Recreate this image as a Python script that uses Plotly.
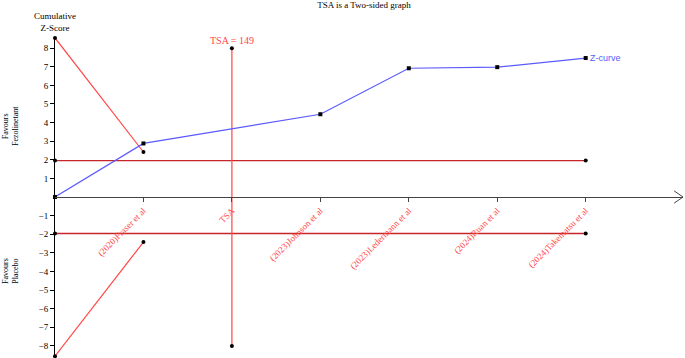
import plotly.graph_objects as go

# ---- data ----
study_labels = ["(2020)Fraser et al", "TSA", "(2023)Johnson et al", "(2023)Ledermann et al",
                "(2024)Ruan et al", "(2024)Takematsu et al"]
study_pos = [1, 2, 3, 4, 5, 6]
z_pos = [0, 1, 3, 4, 5, 6]
z_values = [0, 2.88, 4.45, 6.92, 6.98, 7.47]
boundary_pos = [0, 1]
upper_boundary = [8.55, 2.42]
lower_boundary = [-8.55, -2.42]
conv_pos = [0, 6]
conv_upper = [1.96, 1.96]
conv_lower = [-1.96, -1.96]
tsa_pos = [2, 2]
tsa_range = [-8, 8]
tsa_text = "TSA = 149"
y_ticks = [-8, -7, -6, -5, -4, -3, -2, -1, 1, 2, 3, 4, 5, 6, 7, 8]

SERIF = "Liberation Serif"
RED = "#ff4545"
DARKRED = "#c8252b"
BLUE = "#5a5aff"

Y_RANGE = [-8.65, 8.6]
X_RANGE = [0, 7.1]

fig = go.Figure()

# conventional boundaries
fig.add_trace(go.Scatter(x=conv_pos, y=conv_upper, mode="lines",
                         line=dict(color=DARKRED, width=1.3),
                         cliponaxis=False, hoverinfo="skip"))
fig.add_trace(go.Scatter(x=conv_pos, y=conv_lower, mode="lines",
                         line=dict(color=DARKRED, width=1.3),
                         cliponaxis=False, hoverinfo="skip"))
# alpha-spending boundaries
for yv in (upper_boundary, lower_boundary):
    fig.add_trace(go.Scatter(x=boundary_pos, y=yv, mode="lines",
                             line=dict(color=RED, width=1.2),
                             cliponaxis=False, hoverinfo="skip"))
# TSA line
fig.add_trace(go.Scatter(x=tsa_pos, y=tsa_range, mode="lines",
                         line=dict(color=RED, width=1.2),
                         cliponaxis=False, hoverinfo="skip"))
# Z-curve
fig.add_trace(go.Scatter(x=z_pos, y=z_values, mode="lines",
                         line=dict(color=BLUE, width=1.2),
                         cliponaxis=False, hoverinfo="skip"))

# end-point dots of boundaries and TSA line
dot_x = conv_pos + conv_pos + boundary_pos + boundary_pos + tsa_pos
dot_y = conv_upper + conv_lower + upper_boundary + lower_boundary + tsa_range
fig.add_trace(go.Scatter(x=dot_x, y=dot_y, mode="markers",
                         marker=dict(color="black", size=4),
                         cliponaxis=False, hoverinfo="skip"))
fig.add_trace(go.Scatter(x=z_pos, y=z_values, mode="markers",
                         marker=dict(color="black", size=4, symbol="square"),
                         cliponaxis=False, hoverinfo="skip"))

pos = (0 - Y_RANGE[0]) / (Y_RANGE[1] - Y_RANGE[0])

fig.update_layout(
    width=685, height=358,
    margin=dict(l=55, r=2, t=37, b=0, autoexpand=False),
    paper_bgcolor="white", plot_bgcolor="white",
    showlegend=False,
    font=dict(family=SERIF, size=9, color="black"),
    xaxis=dict(range=X_RANGE, anchor="free", position=pos, automargin=False,
               tickvals=study_pos, ticktext=study_labels, tickangle=-45,
               tickfont=dict(color=RED, size=9, family=SERIF),
               ticks="outside", ticklen=4, tickcolor="#444", showline=True,
               linecolor="#444", linewidth=1, showgrid=False, zeroline=False),
    yaxis=dict(range=Y_RANGE, tickvals=y_ticks, ticks="outside", ticklen=4,
               automargin=False,
               tickcolor="black", showline=True, linecolor="black", linewidth=1,
               showgrid=False, zeroline=False,
               tickfont=dict(size=9, family=SERIF, color="black")),
    title=dict(text="TSA is a Two-sided graph", x=364 / 685, xanchor="center",
               y=0.995, yanchor="top", font=dict(family=SERIF, size=9, color="black")),
)

# arrow head on x axis
fig.add_shape(type="path", xref="x", yref="y",
              path="M 7.0,0.33 L 7.1,0 L 7.0,-0.33",
              line=dict(color="#444", width=1))

fig.add_annotation(x=0, y=1, xref="x", yref="paper", yanchor="bottom", yshift=2,
                   text="Cumulative<br>Z-Score", showarrow=False,
                   font=dict(family=SERIF, size=9, color="black"))
fig.add_annotation(x=tsa_pos[1], y=tsa_range[1], xref="x", yref="y", yanchor="bottom",
                   yshift=0, text=tsa_text, showarrow=False,
                   font=dict(family=SERIF, size=10, color=RED))
fig.add_annotation(x=z_pos[-1], y=z_values[-1], xref="x", yref="y", xanchor="left",
                   xshift=2, text="Z-curve", showarrow=False,
                   font=dict(family="Liberation Sans", size=9, color=BLUE))
fig.add_annotation(x=(10 - 55) / 628, y=(358 - 126) / 321, xref="paper", yref="paper",
                   xanchor="center", yanchor="middle",
                   text="Favours<br>Fezolinetant", textangle=-90, showarrow=False,
                   font=dict(family=SERIF, size=8, color="black"))
fig.add_annotation(x=(10 - 55) / 628, y=(358 - 271) / 321, xref="paper", yref="paper",
                   xanchor="center", yanchor="middle",
                   text="Favours<br>Placebo", textangle=-90, showarrow=False,
                   font=dict(family=SERIF, size=8, color="black"))

fig.write_html("out.html", config={"displayModeBar": False},
               post_script="document.body.style.margin='0';")
